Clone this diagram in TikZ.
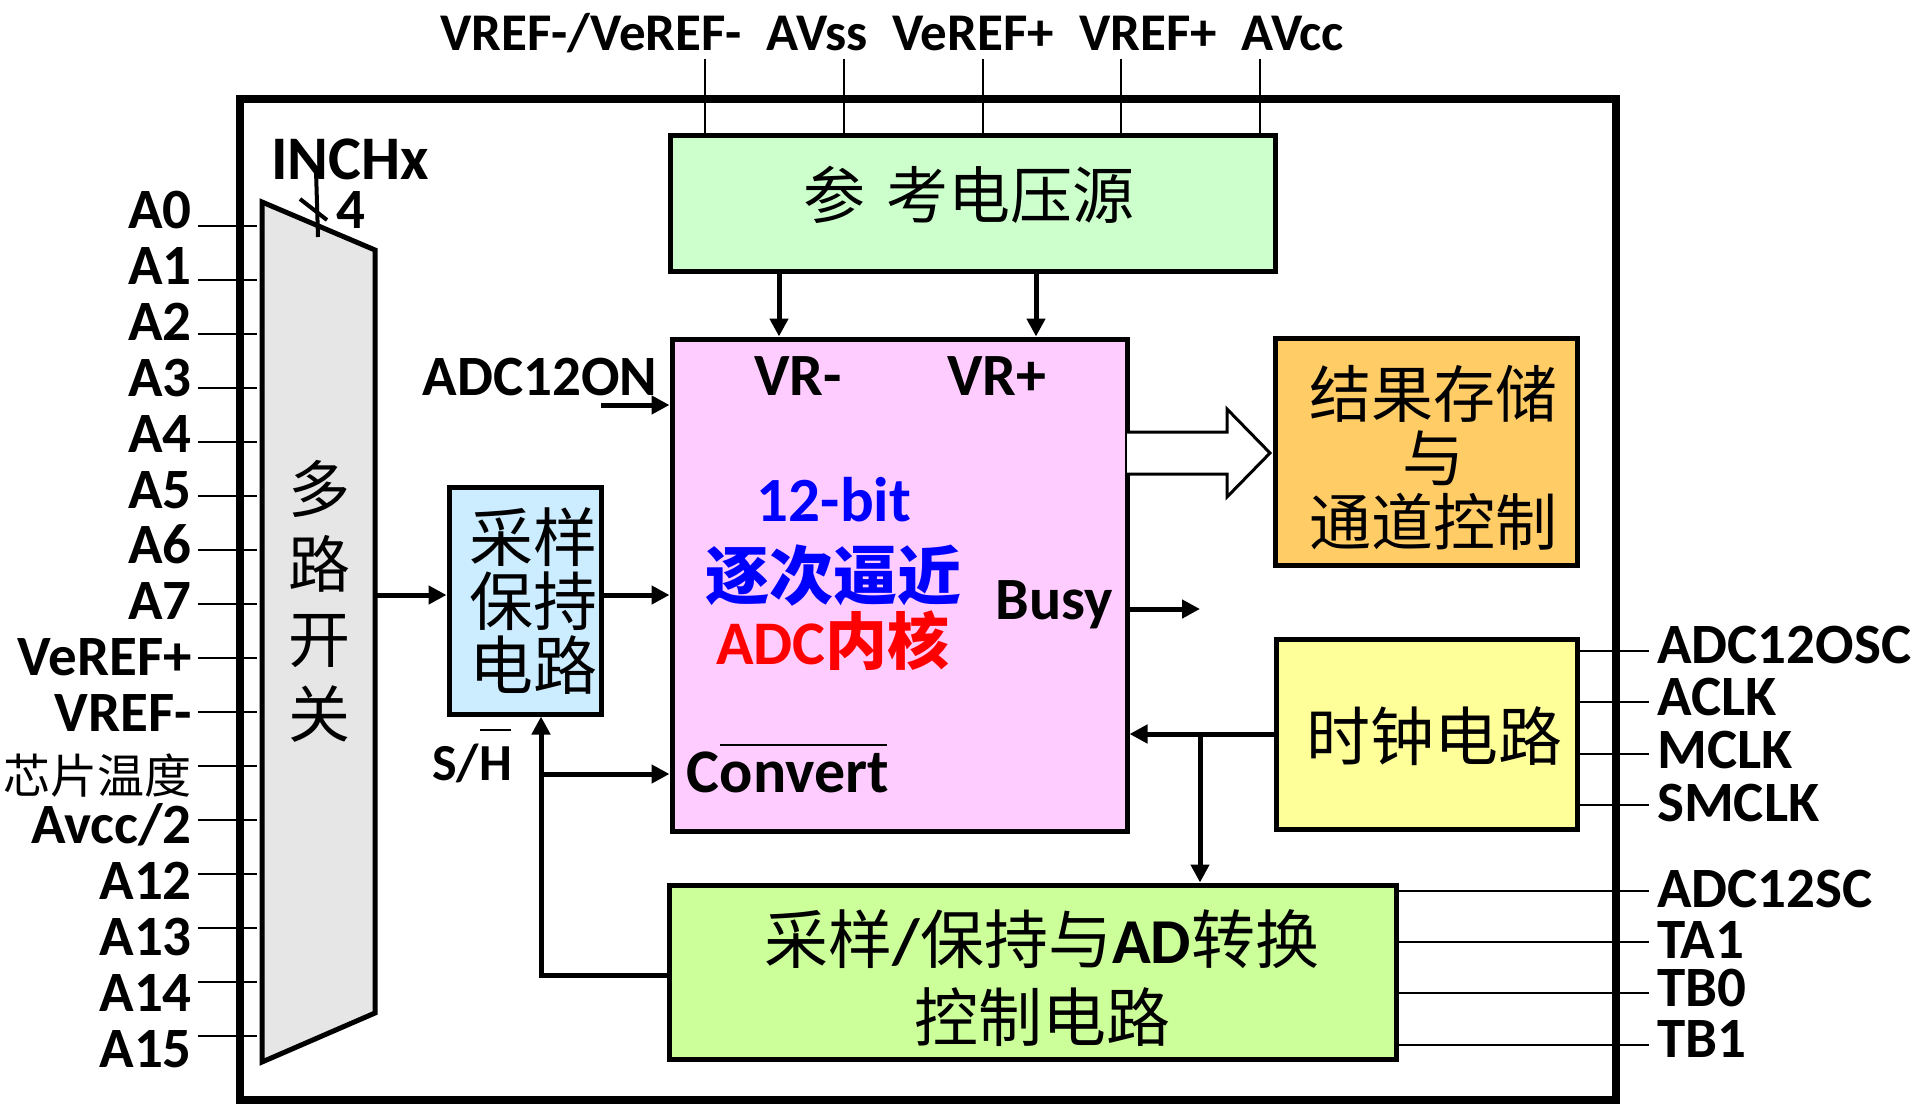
\documentclass[tikz,border=0pt]{standalone}
\usepackage{fontspec}
\setmainfont{Carlito}
\newfontfamily\cjk{Noto Sans CJK SC}
\usetikzlibrary{arrows.meta,calc}
\newcommand\myfs[1]{\fontsize{#1}{#1}\selectfont}
\newcommand\lat[1]{{\normalfont\bfseries #1}}
\definecolor{refg}{HTML}{CCFFCC}
\definecolor{adcp}{HTML}{FFCCFF}
\definecolor{shb}{HTML}{CCECFF}
\definecolor{reso}{HTML}{FFCC66}
\definecolor{clky}{HTML}{FFFF99}
\definecolor{ctlg}{HTML}{CCFF99}
\definecolor{muxg}{HTML}{E6E6E6}
\begin{document}
\begin{tikzpicture}[x=1pt,y=-1pt,
  blk/.style={draw, line width=5pt, inner sep=0pt},
  conn/.style={line width=5pt},
  arr/.style={line width=5pt, -{Triangle[length=18pt,width=18pt]}},
  pinline/.style={line width=2.5pt},
  lbl/.style={font=\bfseries\myfs{57}, inner sep=0pt, text height=36pt, text depth=0pt},
  toplbl/.style={font=\bfseries\myfs{53}, inner sep=0pt, anchor=base},
  cjkt/.style={font={\cjk\myfs{62}}, inner sep=0pt, align=center},
]
\useasboundingbox (0,0) rectangle (1920,1104);

% outer chip frame
\node[draw, line width=8pt, minimum width=1376, minimum height=1001, inner sep=0pt] (chip) at (928,599.5) {};

% ---------- blocks ----------
\node[blk, fill=refg, minimum width=605, minimum height=136] (ref) at (972.5,203) {};
\node[cjkt] (reft) at (969,195) {参\hspace{22pt}考电压源};

\node[blk, fill=adcp, minimum width=455, minimum height=492] (adc) at (899.5,585) {};

\node[blk, fill=shb, minimum width=152, minimum height=227] (sh) at (525,600.5) {};
\node[cjkt, font={\cjk\fontsize{64}{64}\selectfont}] (sht) at (533,601) {采样\\保持\\电路};

\node[blk, fill=reso, minimum width=302, minimum height=227] (res) at (1426.5,451.5) {};
\node[cjkt, font={\cjk\fontsize{62}{64}\selectfont}] (rest) at (1433,458) {结果存储\\与\\通道控制};

\node[blk, fill=clky, minimum width=301, minimum height=190] (clk) at (1426.5,734) {};
\node[cjkt, font={\cjk\myfs{64}}] (clkt) at (1434,736) {时钟电路};

\node[blk, fill=ctlg, minimum width=727, minimum height=174] (ctl) at (1033,972) {};
\node[cjkt, font={\cjk\fontsize{64}{78}\selectfont}] (ctlt) at (1042,978) {采样\lat{/}保持与\lat{AD}转换\\控制电路};

% multiplexer
\draw[line width=5pt, fill=muxg, line join=miter] (262,202) -- (375,250) -- (375,1013) -- (262,1062) -- cycle;
\node[cjkt, font={\cjk\fontsize{62}{75}\selectfont}] (muxt) at (319,601) {多\\路\\开\\关};

% bus marker INCHx / 4
\draw[line width=4pt] (316,170) -- (318,237);
\draw[line width=4pt] (300,199) -- (327,220);
\node[font=\bfseries\myfs{62}, inner sep=0pt, anchor=base, text height=40pt, text depth=0pt] (inch) at (350,179) {INCHx};
\node[lbl, anchor=base] (four) at (350.5,228) {4};

% ---------- top pins ----------
\node[toplbl] (t1) at (591,50) {VREF-/VeREF-};
\node[toplbl] (t2) at (817,50) {AVss};
\node[toplbl] (t3) at (973,50) {VeREF+};
\node[toplbl] (t4) at (1148,50) {VREF+};
\node[toplbl] (t5) at (1293,50) {AVcc};
\foreach \n/\x in {1/705,2/844,3/983,4/1121,5/1260}{
  \coordinate (tp\n) at (\x,59);
  \draw[pinline] (tp\n) -- (tp\n |- ref.north);
}

% ---------- left pins ----------
\node[lbl, anchor=base east] (l0) at (192,228) {A0};
\node[lbl, anchor=base east] (l1) at (192,284) {A1};
\node[lbl, anchor=base east] (l2) at (192,340) {A2};
\node[lbl, anchor=base east] (l3) at (192,396) {A3};
\node[lbl, anchor=base east] (l4) at (192,452) {A4};
\node[lbl, anchor=base east] (l5) at (192,508) {A5};
\node[lbl, anchor=base east] (l6) at (192,563) {A6};
\node[lbl, anchor=base east] (l7) at (192,619) {A7};
\node[lbl, anchor=base east] (l8) at (192,675) {VeREF+};
\node[lbl, anchor=base east] (l9) at (192,731) {VREF-};
\node[font={\cjk\myfs{47}}, inner sep=0pt, anchor=east] (l10) at (192,776) {芯片温度};
\node[lbl, anchor=base east] (l11) at (192,843) {Avcc/2};
\node[lbl, anchor=base east] (l12) at (192,899) {A12};
\node[lbl, anchor=base east] (l13) at (192,955) {A13};
\node[lbl, anchor=base east] (l14) at (192,1011) {A14};
\node[lbl, anchor=base east] (l15) at (192,1067) {A15};
\coordinate (muxL) at (257,0);
\foreach \i in {0,...,15}{
  \coordinate (lp\i) at (198,{226+54*\i});
  \draw[pinline] (lp\i) -- (lp\i -| muxL);
}

% ---------- right pins ----------
\foreach \n/\y/\b/\t in {1/651/663/ADC12OSC, 2/702/715/ACLK, 3/754/768/MCLK, 4/805/821/SMCLK}{
  \coordinate (rc\n) at (1649,\y);
  \draw[pinline] (rc\n -| clk.east) -- (rc\n);
  \node[lbl, anchor=base west] (rcl\n) at (1657,\b) {\t};
}
\foreach \n/\y/\b/\t in {1/891/907/ADC12SC, 2/942/958/TA1, 3/993/1006/TB0, 4/1045/1057/TB1}{
  \coordinate (rt\n) at (1649,\y);
  \draw[pinline] (rt\n -| ctl.east) -- (rt\n);
  \node[lbl, anchor=base west] (rtl\n) at (1657,\b) {\t};
}

% ---------- ADC core texts ----------
\node[font=\bfseries\myfs{60}, inner sep=0pt, anchor=base] (vrmt) at (798,395) {VR-};
\node[font=\bfseries\myfs{60}, inner sep=0pt, anchor=base] (vrpt) at (997,395) {VR+};
\node[lbl, anchor=base] (ont) at (540,395) {ADC12ON};
\node[font=\bfseries\myfs{63}, text=blue, inner sep=0pt, anchor=base] (bitt) at (834,521) {12-bit};
\node[font={\cjk\bfseries\myfs{64}}, text=blue, inner sep=0pt] (sart) at (833,576) {逐次逼近};
\node[font={\cjk\bfseries\myfs{62}}, text=red, inner sep=0pt] (coret) at (833,641) {\lat{ADC}内核};
\node[font=\bfseries\myfs{60}, inner sep=0pt, anchor=base] (busyt) at (1054,619) {Busy};
\node[font=\bfseries\myfs{62}, inner sep=0pt, anchor=base] (convt) at (788,792) {Convert};
\draw[line width=2pt] (720,745) -- (887,745);
\node[font=\bfseries\myfs{52}, inner sep=0pt, anchor=base] (sht2) at (472,780) {S/H};
\draw[line width=2pt] (480,730) -- (511,730);

% ---------- connectors ----------
\coordinate (vrm) at (779,0);
\coordinate (vrp) at (1036,0);
\draw[arr] (vrm |- ref.south) -- (vrm |- adc.north);
\draw[arr] (vrp |- ref.south) -- (vrp |- adc.north);

\coordinate (ons) at (601,405);
\draw[arr] (ons) -- (ons -| adc.west);

\coordinate (mo) at (375,595);
\draw[arr] (mo) -- (mo -| sh.west);
\draw[arr] (sh.east |- mo) -- (mo -| adc.west);

\coordinate (be) at (1200,609);
\draw[arr] (be -| adc.east) -- (be);

\coordinate (ha) at (1127,453);
\draw[line width=3pt, fill=white, line join=miter]
  ($(ha)+(0,-21)$) -- ++(100,0) -- ++(0,-23) -- ++(43,44) -- ++(-43,44) -- ++(0,-23) -- ++(-100,0);

\draw[arr] (clk.west) -- (clk.west -| adc.east);
\coordinate (cb) at (1200,734);
\draw[arr] (cb) -- (cb |- ctl.north);

\coordinate (vc) at (541,975);
\draw[arr, line join=miter] (ctl.west |- vc) -- (vc) -- (vc |- sh.south);
\coordinate (cv) at (541,774);
\draw[arr] (cv) -- (cv -| adc.west);
\end{tikzpicture}
\end{document}
